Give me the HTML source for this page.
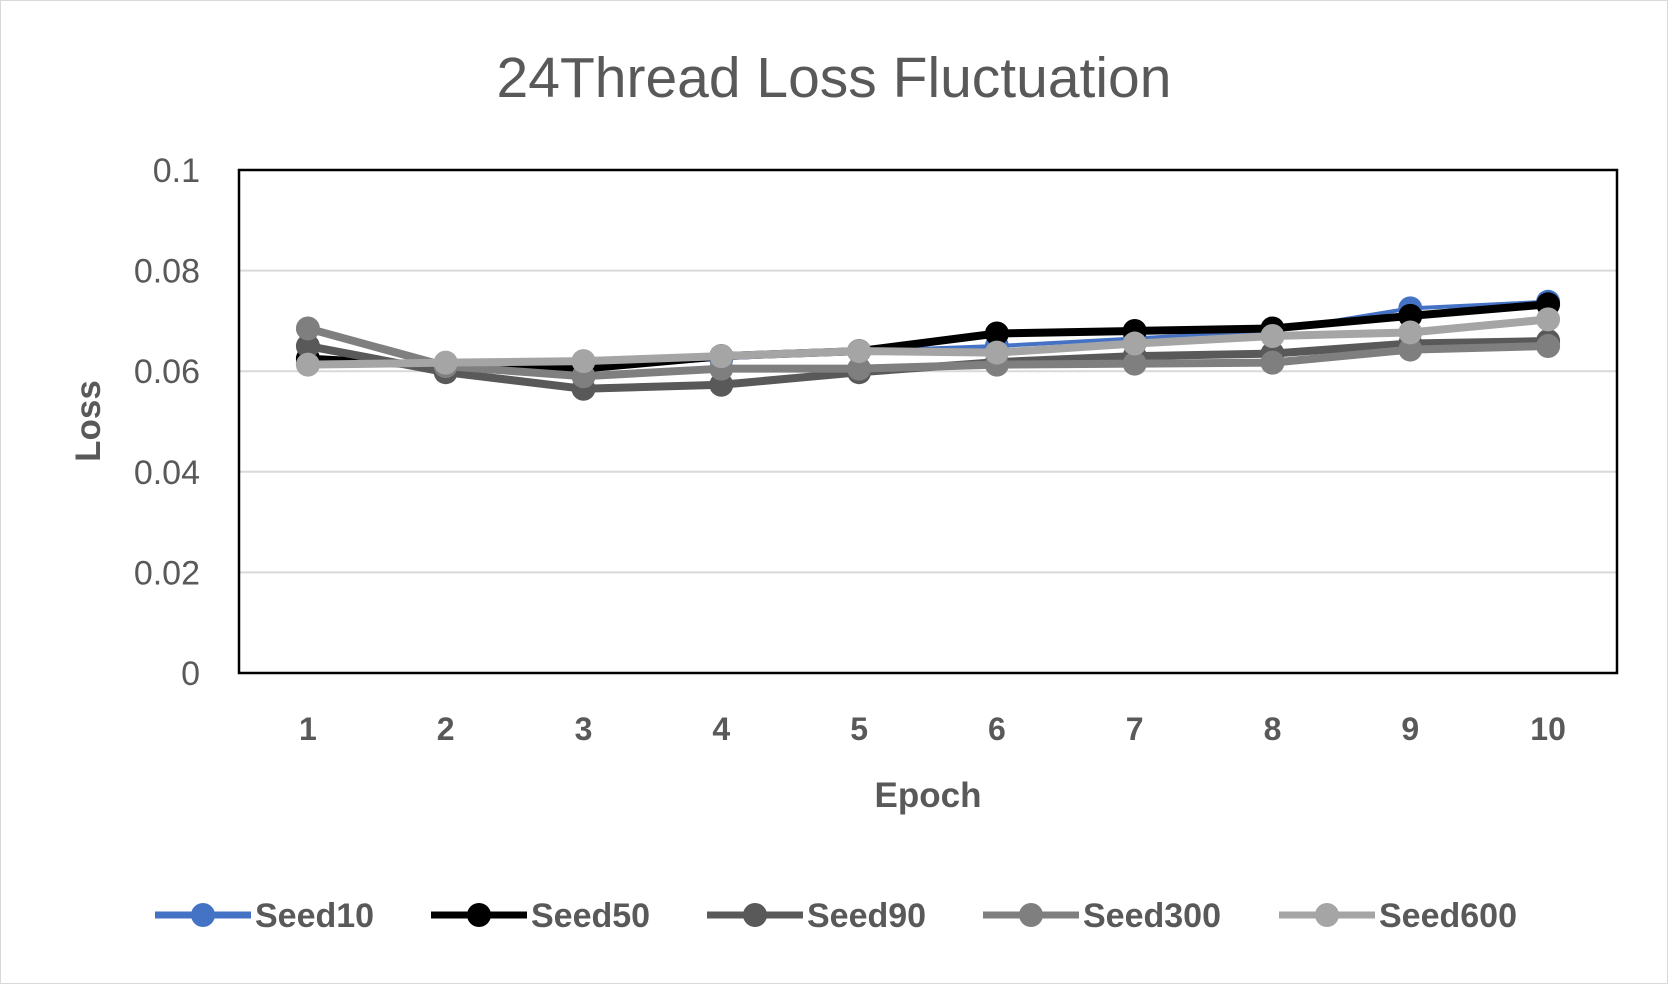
<!DOCTYPE html>
<html><head><meta charset="utf-8"><style>
body{margin:0;background:#fff;}
svg{display:block;font-family:"Liberation Sans",sans-serif;}
</style></head><body>
<svg id="chart" width="1668" height="984">
<rect x="0.5" y="0.5" width="1667" height="983" fill="#fff" stroke="#d9d9d9"/>
<text x="834" y="97" text-anchor="middle" font-size="57" fill="#595959">24Thread Loss Fluctuation</text>
<g id="grid"></g>
<rect x="239" y="170" width="1378" height="503" fill="none" stroke="#000" stroke-width="2.5"/>
<g id="series"></g>
<text transform="translate(100,421) rotate(-90)" text-anchor="middle" font-size="35" font-weight="bold" fill="#595959">Loss</text>
<text x="928" y="807" text-anchor="middle" font-size="35" font-weight="bold" fill="#595959">Epoch</text>
<g id="legend"></g>
</svg>
<script>
const categories=[1,2,3,4,5,6,7,8,9,10];
const yTicks=[0,0.02,0.04,0.06,0.08,0.1];
const yTickLabels=["0","0.02","0.04","0.06","0.08","0.1"];
const seriesNames=["Seed10","Seed50","Seed90","Seed300","Seed600"];
const seriesColors=["#4472c4","#000000","#595959","#7f7f7f","#a5a5a5"];
const seed10=[0.0617,0.0615,0.0605,0.0625,0.064,0.065,0.0665,0.068,0.0725,0.0738];
const seed50=[0.0625,0.061,0.0605,0.063,0.064,0.0675,0.068,0.0685,0.071,0.0733];
const seed90=[0.065,0.0598,0.0565,0.0573,0.0598,0.0618,0.063,0.0635,0.0655,0.066];
const seed300=[0.0685,0.061,0.059,0.0605,0.0605,0.0613,0.0615,0.0617,0.0643,0.065];
const seed600=[0.0613,0.0617,0.062,0.063,0.064,0.0637,0.0655,0.067,0.0677,0.0703];
const allSeries=[seed10,seed50,seed90,seed300,seed600];
const NS="http://www.w3.org/2000/svg";
const L=239,R=1617,T=170,B=673,yMax=0.1;
const xs=i=>L+(R-L)/categories.length*(i+0.5);
const ys=v=>B-(v/yMax)*(B-T);
function mk(tag,attrs,parent){const e=document.createElementNS(NS,tag);for(const k in attrs)e.setAttribute(k,attrs[k]);parent.appendChild(e);return e;}
const grid=document.getElementById('grid');
yTicks.forEach((t,i)=>{
  if(t>0&&t<yMax){const g=mk('line',{x1:L,x2:R,y1:ys(t),y2:ys(t),stroke:'#d9d9d9','stroke-width':2},grid);
  
  }
  const tx=mk('text',{x:200,y:ys(t)+12,'text-anchor':'end','font-size':34,fill:'#595959'},grid);
  tx.textContent=yTickLabels[i];
  
  
});
categories.forEach((c,i)=>{
  const tx=mk('text',{x:xs(i),y:740,'text-anchor':'middle','font-size':32,'font-weight':'bold',fill:'#595959'},grid);
  tx.textContent=c;
  
  
});
const sg=document.getElementById('series');
allSeries.forEach((d,s)=>{
  const g=mk('g',{},sg);
  
  
  const p=mk('polyline',{points:d.map((v,i)=>xs(i)+','+ys(v)).join(' '),fill:'none',stroke:seriesColors[s],'stroke-width':s==0?4:8,'stroke-linejoin':'round'},g);
  
  
  d.forEach((v,i)=>{const c=mk('circle',{cx:xs(i),cy:ys(v),r:12,fill:seriesColors[s]},g);
    
    });
});
const lg=document.getElementById('legend');
const lx=[155,431,707,983,1279];
seriesNames.forEach((n,s)=>{
  const g=mk('g',{},lg);
  
  
  mk('line',{x1:lx[s],x2:lx[s]+96,y1:915,y2:915,stroke:seriesColors[s],'stroke-width':7},g);
  mk('circle',{cx:lx[s]+48,cy:915,r:12,fill:seriesColors[s]},g);
  const t=mk('text',{x:lx[s]+100,y:927,'font-size':34,'font-weight':'bold',fill:'#595959'},g);
  t.textContent=n;
});
</script>
</body></html>
